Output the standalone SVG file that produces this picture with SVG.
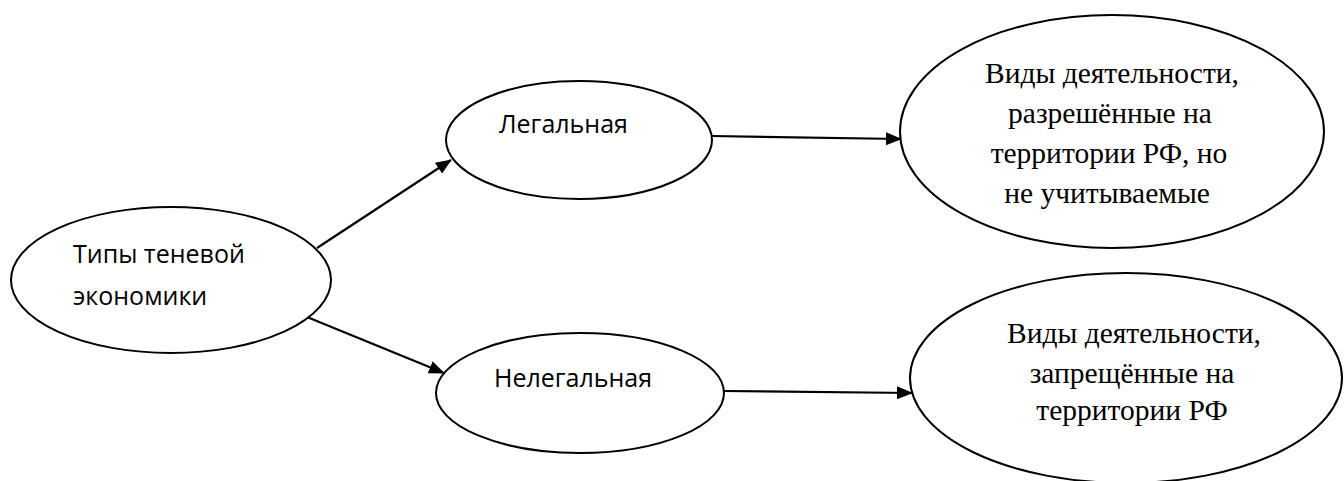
<svg xmlns="http://www.w3.org/2000/svg" width="1344" height="481" viewBox="0 0 1344 481">
<style>
.node ellipse{fill:#fff;stroke:#000;stroke-width:2}
.sans{font-family:"Open Sans","Noto Sans",sans-serif;font-size:25px;fill:#000}
.serif{font-family:"Liberation Serif","Times New Roman",serif;font-size:29.5px;fill:#000;text-anchor:middle}
.edge{stroke:#000;stroke-width:2.2;fill:none;marker-end:url(#arr)}
</style>
<defs>
<marker id="arr" markerWidth="16" markerHeight="13" refX="15" refY="6.5" orient="auto" markerUnits="userSpaceOnUse">
<path d="M0,0 L16,6.5 L0,13 Z" fill="#000"/>
</marker>
</defs>
<g id="connectors">
<line class="edge" x1="317" y1="248" x2="451" y2="160"/>
<line class="edge" x1="307" y1="317" x2="444" y2="373"/>
<line class="edge" x1="712" y1="136" x2="901" y2="139"/>
<line class="edge" x1="724" y1="391" x2="912" y2="393"/>
</g>
<g id="node-types" class="node">
<ellipse cx="171" cy="280" rx="160" ry="73"/>
<text class="sans" x="73" y="263">Типы теневой</text>
<text class="sans" x="73" y="305">экономики</text>
</g>
<g id="node-legal" class="node">
<ellipse cx="579" cy="140" rx="133" ry="59"/>
<text class="sans" x="499" y="133">Легальная</text>
</g>
<g id="node-illegal" class="node">
<ellipse cx="580" cy="393" rx="144" ry="60"/>
<text class="sans" x="494" y="387">Нелегальная</text>
</g>
<g id="node-legal-desc" class="node">
<ellipse cx="1112" cy="131.5" rx="212" ry="116.5"/>
<text class="serif" x="1112" y="83">Виды деятельности,</text>
<text class="serif" x="1110" y="123">разрешённые на</text>
<text class="serif" x="1109" y="163">территории РФ, но</text>
<text class="serif" x="1107" y="203">не учитываемые</text>
</g>
<g id="node-illegal-desc" class="node">
<ellipse cx="1126" cy="378" rx="216" ry="105"/>
<text class="serif" x="1134" y="343">Виды деятельности,</text>
<text class="serif" x="1132" y="383">запрещённые на</text>
<text class="serif" x="1132" y="420">территории РФ</text>
</g>
</svg>
